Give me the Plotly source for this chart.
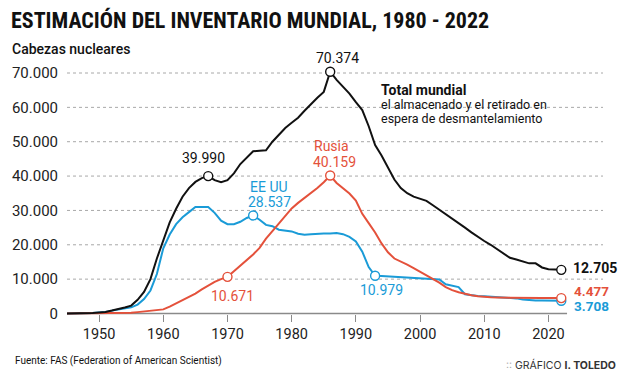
import plotly.graph_objects as go

# ---------------- data ----------------
YEARS = list(range(1945, 2023))

TOTAL = [2, 9, 13, 50, 170, 300, 450, 850, 1200, 1750,
         2300, 4000, 6300, 10000, 16000, 21000, 26500, 30500, 34000, 36500,
         38300, 39400, 39990, 38800, 38200, 38800, 40800, 43500, 45500, 47200,
         47400, 47500, 50000, 52000, 54000, 55500, 57000, 59000, 61000, 62800,
         64500, 70374, 68000, 65900, 64000, 61500, 59200, 54500, 49000, 46000,
         42500, 39000, 36500, 35000, 34000, 33400, 32800, 31500, 30200, 29000,
         27800, 26500, 25000, 23600, 22300, 21100, 20000, 18800, 17500, 16200,
         15700, 15100, 14600, 14600, 13400, 12900, 12800, 12705]

EEUU = [2, 9, 13, 50, 170, 300, 440, 840, 1170, 1500,
        1800, 2600, 4200, 6700, 11500, 19000, 23000, 26000, 28000, 29500,
        31000, 31000, 31000, 29300, 27000, 26000, 26000, 26700, 27800, 28537,
        27300, 25800, 25400, 24400, 24100, 23900, 23200, 22900, 23100, 23300,
        23300, 23300, 23400, 23100, 22300, 21000, 18000, 13500, 10979, 10900,
        10800, 10700, 10600, 10500, 10400, 10300, 10200, 10100, 9900, 8500,
        8200, 7700, 5600, 5300, 5100, 5000, 4900, 4800, 4700, 4600,
        4400, 4100, 3900, 3800, 3750, 3730, 3720, 3708]

RUSIA = [0, 0, 0, 0, 1, 5, 25, 50, 120, 150,
         200, 400, 650, 870, 1000, 1200, 2000, 2900, 3800, 4800,
         5800, 7000, 8100, 9200, 10000, 10671, 12300, 13900, 15500, 17200,
         19100, 21800, 24000, 26300, 28600, 30600, 32200, 33600, 35000, 36500,
         38200, 40159, 38000, 36400, 34900, 32900, 29000, 26300, 23600, 20400,
         17800, 16000, 15200, 14200, 13200, 12200, 11200, 10200, 9000, 7700,
         6800, 6200, 5700, 5300, 5000, 4800, 4700, 4650, 4600, 4560,
         4530, 4510, 4500, 4490, 4480, 4480, 4477, 4477]

TOTAL_MARKS = [1967, 1986, 2022]
EEUU_MARKS = [1974, 1993, 2022]
RUSIA_MARKS = [1970, 1986, 2022]

Y_TICKS = [0, 10000, 20000, 30000, 40000, 50000, 60000, 70000]
X_TICKS = [1950, 1960, 1970, 1980, 1990, 2000, 2010, 2020]

TITLE = "ESTIMACIÓN DEL INVENTARIO MUNDIAL, 1980 - 2022"
SUBTITLE = "Cabezas nucleares"
SOURCE = "Fuente: FAS (Federation of American Scientist)"

# ---------------- style ----------------
BLACK = "#111111"
RED = "#e4513b"
BLUE = "#1a9bd7"
GRID = "#a8a8a8"
AXIS = "#8a8a8a"
FONT = "Roboto, 'Open Sans', sans-serif"
TFONT = "'Liberation Sans Narrow', 'Roboto Condensed', 'Arial Narrow', Roboto, sans-serif"

W, H = 624, 378
ML, MR, MT, MB = 60, 21, 66, 60
PW, PH = W - ML - MR, H - MT - MB
Y0_PX = 313.5            # pixel of value 0
SCALE = 240.5 / 70000    # px per unit
Y_MIN = -(MT + PH - Y0_PX) / SCALE
Y_MAX = Y_MIN + PH / SCALE
X_RANGE = [1945, 2028.5]


def fmt(v):
    return f"{v:,}".replace(",", ".")


def px(xp):
    return (xp - ML) / PW


def py(yp):
    return (MT + PH - yp) / PH


def val(series, year):
    return series[YEARS.index(year)]


fig = go.Figure()

for series, color in [(EEUU, BLUE), (RUSIA, RED), (TOTAL, BLACK)]:
    fig.add_trace(go.Scatter(x=YEARS, y=series, mode="lines",
                             line=dict(color=color, width=2),
                             hoverinfo="skip", showlegend=False))

for series, marks, color in [(EEUU, EEUU_MARKS, BLUE), (RUSIA, RUSIA_MARKS, RED),
                             (TOTAL, TOTAL_MARKS, BLACK)]:
    fig.add_trace(go.Scatter(x=marks, y=[val(series, m) for m in marks], mode="markers",
                             marker=dict(symbol="circle", size=9, color="white",
                                         line=dict(color=color, width=1.4)),
                             cliponaxis=False, hoverinfo="skip", showlegend=False))

shapes = []
for t in Y_TICKS[1:]:
    shapes.append(dict(type="line", xref="paper", yref="y", x0=0, x1=1, y0=t, y1=t,
                       line=dict(color=GRID, width=1, dash="3px,3px"), layer="below"))
shapes.append(dict(type="line", xref="x", yref="y", x0=X_RANGE[0], x1=2022.9, y0=0, y1=0,
                   line=dict(color=AXIS, width=1.3), layer="below"))

ann = []


def add(text, x, y, size=14, color=BLACK, xa="center", ya="middle", family=FONT, weight=None):
    f = dict(family=family, size=size, color=color)
    if weight:
        f["weight"] = weight
    ann.append(dict(text=text, xref="paper", yref="paper", x=px(x), y=py(y),
                    xanchor=xa, yanchor=ya, showarrow=False, font=f))


add(f"<b>{TITLE}</b>", 1, 20, size=22, xa="left", family=TFONT)
add(SUBTITLE, 2, 49, size=14, xa="left", weight=500)

add(fmt(val(TOTAL, 1986)), 334, 58)
add(fmt(val(TOTAL, 1967)), 198, 158)
add("<b>Total mundial</b>", 376, 90, size=14, xa="left")
add("el almacenado y el retirado en", 376, 104, size=12.5, xa="left")
add("espera de desmantelamiento", 376, 118, size=12.5, xa="left")

add("Rusia", 328, 146, color=RED)
add(fmt(val(RUSIA, 1986)), 331, 162, color=RED)
add("EE UU", 265, 187, color=BLUE)
add(fmt(val(EEUU, 1974)), 265, 202, color=BLUE)
add(fmt(val(RUSIA, 1970)), 228, 296, color=RED)
add(fmt(val(EEUU, 1993)), 379, 290, color=BLUE)

add(f"<b>{fmt(val(TOTAL, 2022))}</b>", 571, 268, xa="left")
add(f"<b>{fmt(val(RUSIA, 2022))}</b>", 572, 291, size=13.5, color=RED, xa="left")
add(f"<b>{fmt(val(EEUU, 2022))}</b>", 572, 306, size=13.5, color=BLUE, xa="left")

add(SOURCE, 5, 361, size=10, xa="left")
add("<span style='color:#aaaaaa'>::</span> GRÁFICO <b>I. TOLEDO</b>", 618, 365, size=10.5,
    xa="right", color="#333333", family="Inter, 'Open Sans', sans-serif")

fig.update_layout(
    width=W, height=H,
    margin=dict(l=ML, r=MR, t=MT, b=MB, pad=0),
    paper_bgcolor="white", plot_bgcolor="white",
    font=dict(family=FONT, color="#222222"),
    shapes=shapes, annotations=ann,
    xaxis=dict(range=X_RANGE, tickvals=X_TICKS, ticktext=[str(t) for t in X_TICKS],
               showgrid=False, zeroline=False, showline=False,
               ticks="outside", ticklen=7, tickcolor=AXIS, tickwidth=1,
               tickfont=dict(size=14.5, color="#222222"),
               anchor="free", position=(MT + PH - Y0_PX) / PH, fixedrange=True),
    yaxis=dict(range=[Y_MIN, Y_MAX], tickvals=Y_TICKS, ticktext=[fmt(t) for t in Y_TICKS],
               showgrid=False, zeroline=False, showline=False, ticks="",
               ticklabelstandoff=8,
               tickfont=dict(size=15, color="#222222"), fixedrange=True),
)

fig.write_html("out.html", config={"displayModeBar": False},
               post_script="document.body.style.margin='0';document.body.style.padding='0';")
